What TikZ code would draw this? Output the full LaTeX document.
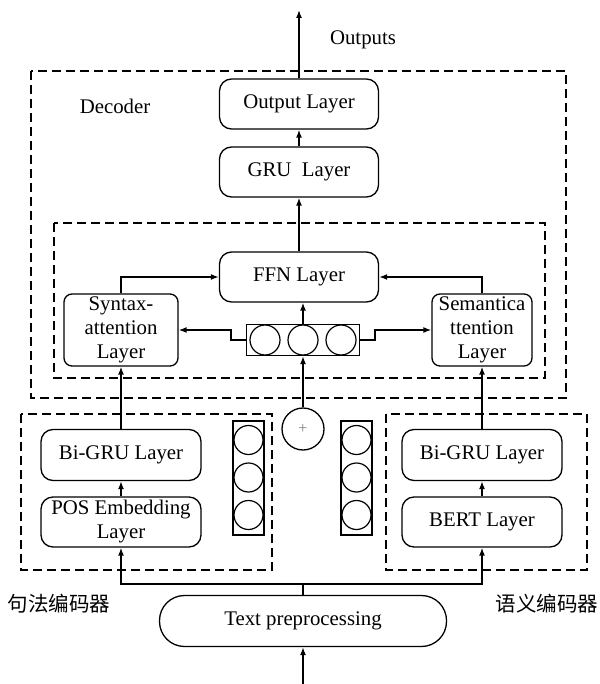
\documentclass[tikz,border=0pt]{standalone}
\usepackage{fontspec}
\setmainfont{Liberation Serif}
\newfontfamily\cjk{Noto Sans CJK SC}
\usetikzlibrary{arrows.meta,positioning}
\tikzset{
  layer/.style={draw, line width=1.3pt, rounded corners=12pt, align=center,
    minimum width=159pt, minimum height=50pt, inner sep=1pt},
  attn/.style={draw, line width=1.3pt, rounded corners=8pt, align=center,
    minimum height=72pt, inner sep=0pt},
  group/.style={draw, line width=1.4pt, dash pattern=on 9pt off 5pt},
  arr/.style={line width=1.5pt, -{Latex[length=8pt,width=6pt]}},
  link/.style={line width=1.5pt},
  cell/.style={draw, line width=1.2pt},
  lbl/.style={inner sep=0pt},
}
\begin{document}
\begin{tikzpicture}[x=1pt, y=-1pt, font=\fontsize{20.8}{24}\selectfont]
\useasboundingbox (0,0) rectangle (599,684);
\fill[white] (0,0) rectangle (599,684);

% dashed frames: decoder, fusion block, two encoders
\draw[group] (31,71) rectangle (566,398);
\draw[group] (54,223) rectangle (545,378);
\draw[group] (21,414) rectangle (272,570);
\draw[group] (386,414) rectangle (587,570);

% decoder stack
\node[layer] (outl) at (299,104) {Output Layer};
\node[layer] (gru)  at (299,172) {GRU\ \ Layer};
\node[layer] (ffn)  at (299,277) {FFN Layer};
\node[attn, minimum width=114pt] (syn) at (121,330) {Syntax-\\attention\\Layer};
\node[attn, minimum width=100pt] (sem) at (482,330) {Semantica\\ttention\\Layer};

% horizontal vector of three cells
\node[draw, line width=1.3pt, minimum width=113pt, minimum height=31pt, inner sep=0pt] (cbox) at (303,340) {};
\foreach \cx in {265,303,341} \draw[cell] (\cx,340) circle (15);

% sum node
\node[draw, circle, line width=1.3pt, minimum size=42pt, inner sep=0pt] (plus) at (303,429) {};
\node[text=gray, font=\fontsize{16}{16}\selectfont] at (plus.center) {+};

% encoders
\node[layer, minimum width=160pt, minimum height=51pt] (lgru) at (121,455) {Bi-GRU Layer};
\node[layer, minimum width=160pt] (pos) at (121,522) {POS Embedding\\Layer};
\node[layer, minimum width=160pt, minimum height=51pt] (rgru) at (482,455) {Bi-GRU Layer};
\node[layer, minimum width=160pt] (bert) at (482,522) {BERT Layer};

% vertical vectors of three cells
\node[draw, line width=1.3pt, minimum width=31pt, minimum height=114pt, inner sep=0pt] (lcol) at (248.5,478) {};
\node[draw, line width=1.3pt, minimum width=31pt, minimum height=114pt, inner sep=0pt] (rcol) at (356.5,478) {};
\foreach \cy in {440,477.5,515} {
  \draw[cell] (248.5,\cy) circle (14.5);
  \draw[cell] (356.5,\cy) circle (14.5);
}

% preprocessing
\node[draw, line width=1.3pt, rounded corners=25pt, minimum width=287pt, minimum height=51pt] (tp) at (303,621) {Text preprocessing};

% labels
\node[lbl] (outs) at (363,40) {Outputs};
\node[lbl] (dec) at (115,106) {Decoder};
\node[lbl, font=\cjk\fontsize{20.5}{20.5}\selectfont] (synlbl) at (59,604) {句法编码器};
\node[lbl, font=\cjk\fontsize{20.5}{20.5}\selectfont] (semlbl) at (547,604) {语义编码器};

% connectors
\coordinate (outtip) at (299,10);
\coordinate (trunk) at (303,584);
\coordinate (inp) at (303,684);
\draw[arr] (outl.north) -- (outtip);
\draw[arr] (gru.north) -- (outl.south);
\draw[arr] (ffn.north) -- (gru.south);
\draw[arr] (syn.north) |- (ffn.west);
\draw[arr] (sem.north) |- (ffn.east);
\draw[arr] (cbox.north) -- (cbox.north |- ffn.south);
\draw[arr] (cbox.west) -- ++(-15,0) |- (syn.east);
\draw[arr] (cbox.east) -- ++(15,0) |- (sem.west);
\draw[arr] (plus.north) -- (cbox.south);
\draw[arr] (lgru.north) -- (syn.south);
\draw[arr] (rgru.north) -- (sem.south);
\draw[arr] (pos.north) -- (lgru.south);
\draw[arr] (bert.north) -- (rgru.south);
\draw[link] (tp.north) -- (trunk);
\draw[arr] (trunk) -| (pos.south);
\draw[arr] (trunk) -| (bert.south);
\draw[arr] (inp) -- (tp.south);
\end{tikzpicture}
\end{document}
